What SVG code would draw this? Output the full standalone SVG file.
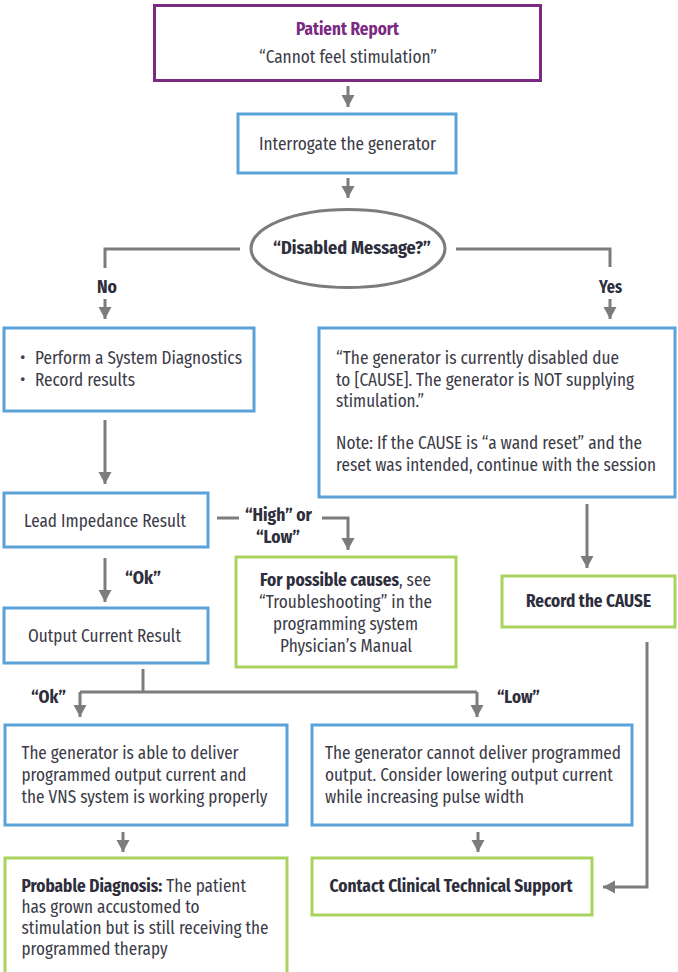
<svg xmlns="http://www.w3.org/2000/svg" width="678" height="972" viewBox="0 0 678 972">
<style>
text{font-family:"Fira Sans Condensed","Roboto Condensed","Liberation Sans Narrow",Roboto,"Noto Sans",sans-serif;font-size:18px;fill:#3c3c48}
.b{font-weight:700;fill:#2e2e3c}
.p{font-weight:700;fill:#7b2a82}
.box{fill:#fff;stroke-width:3}
.blue{stroke:#5aa2d8}
.green{stroke:#a9d35e}
.purple{stroke:#7b2a82}
.con path{fill:none;stroke:#7c7c7c;stroke-width:3}
.arr{marker-end:url(#ah)}
</style>
<defs>
<marker id="ah" markerUnits="userSpaceOnUse" markerWidth="14" markerHeight="14" viewBox="0 0 14 14" refX="12" refY="7" orient="auto">
<path d="M0,0.5 L12,7 L0,13.5 z" fill="#7c7c7c"/>
</marker>
</defs>
<rect width="678" height="972" fill="#fff"/>
<g class="con">
<path class="arr" d="M348,86 V107"/>
<path class="arr" d="M348,178 V198"/>
<path d="M240,249 H105 V268"/>
<path class="arr" d="M105,299 V319"/>
<path d="M456,249 H610 V267"/>
<path class="arr" d="M610,299 V319"/>
<path class="arr" d="M105,420 V484"/>
<path d="M217,518 H239"/>
<path class="arr" d="M322,518 H348 V550"/>
<path class="arr" d="M105,558 V602"/>
<path class="arr" d="M587,504 V568"/>
<path d="M143,669 V692"/>
<path d="M80,692 H477"/>
<path class="arr" d="M80,692 V717"/>
<path class="arr" d="M477,692 V717"/>
<path class="arr" d="M123,832 V852"/>
<path class="arr" d="M478,832 V852"/>
<path class="arr" d="M647,642 V887 H603"/>
</g>
<g id="patient-report">
<rect class="box purple" x="154.5" y="5.5" width="386" height="75"/>
<text class="p" x="296" y="35" textLength="103" lengthAdjust="spacingAndGlyphs">Patient Report</text>
<text x="259" y="63" textLength="178" lengthAdjust="spacingAndGlyphs">“Cannot feel stimulation”</text>
</g>
<g id="interrogate">
<rect class="box blue" x="238" y="114" width="218" height="59"/>
<text x="259" y="150" textLength="177" lengthAdjust="spacingAndGlyphs">Interrogate the generator</text>
</g>
<g id="disabled-message">
<ellipse cx="348" cy="248.5" rx="97" ry="39" fill="#fff" stroke="#7c7c7c" stroke-width="3"/>
<text class="b" x="273" y="254" textLength="158" lengthAdjust="spacingAndGlyphs">“Disabled Message?”</text>
</g>
<g id="label-no"><text class="b" x="97" y="293" textLength="20" lengthAdjust="spacingAndGlyphs">No</text></g>
<g id="label-yes"><text class="b" x="599" y="293" textLength="23" lengthAdjust="spacingAndGlyphs">Yes</text></g>
<g id="diagnostics">
<rect class="box blue" x="4" y="328" width="250" height="83"/>
<text x="20" y="364">•</text>
<text x="35" y="364" textLength="207" lengthAdjust="spacingAndGlyphs">Perform a System Diagnostics</text>
<text x="20" y="386">•</text>
<text x="35" y="386" textLength="100" lengthAdjust="spacingAndGlyphs">Record results</text>
</g>
<g id="disabled-info">
<rect class="box blue" x="319" y="328" width="356" height="169"/>
<text x="336" y="364" textLength="283" lengthAdjust="spacingAndGlyphs">“The generator is currently disabled due</text>
<text x="336" y="385.5" textLength="298" lengthAdjust="spacingAndGlyphs">to [CAUSE]. The generator is NOT supplying</text>
<text x="336" y="407" textLength="88" lengthAdjust="spacingAndGlyphs">stimulation.”</text>
<text x="336" y="449" textLength="306" lengthAdjust="spacingAndGlyphs">Note: If the CAUSE is “a wand reset” and the</text>
<text x="336" y="470.5" textLength="320" lengthAdjust="spacingAndGlyphs">reset was intended, continue with the session</text>
</g>
<g id="lead-impedance">
<rect class="box blue" x="4" y="493" width="204" height="54"/>
<text x="24" y="527" textLength="162" lengthAdjust="spacingAndGlyphs">Lead Impedance Result</text>
</g>
<g id="label-high-low">
<text class="b" x="245" y="521" textLength="67" lengthAdjust="spacingAndGlyphs">“High” or</text>
<text class="b" x="256" y="543" textLength="44" lengthAdjust="spacingAndGlyphs">“Low”</text>
</g>
<g id="possible-causes">
<rect class="box green" x="236" y="557" width="220" height="110"/>
<text x="260" y="586" textLength="171" lengthAdjust="spacingAndGlyphs"><tspan class="b">For possible causes</tspan>, see</text>
<text x="259" y="608" textLength="173" lengthAdjust="spacingAndGlyphs">“Troubleshooting” in the</text>
<text x="273" y="630" textLength="145" lengthAdjust="spacingAndGlyphs">programming system</text>
<text x="280" y="652" textLength="132" lengthAdjust="spacingAndGlyphs">Physician’s Manual</text>
</g>
<g id="record-cause">
<rect class="box green" x="502" y="576" width="173" height="51"/>
<text class="b" x="526" y="607" textLength="125" lengthAdjust="spacingAndGlyphs">Record the CAUSE</text>
</g>
<g id="label-ok1"><text class="b" x="125" y="584" textLength="36" lengthAdjust="spacingAndGlyphs">“Ok”</text></g>
<g id="output-current">
<rect class="box blue" x="4" y="608" width="204" height="55"/>
<text x="28" y="642" textLength="153" lengthAdjust="spacingAndGlyphs">Output Current Result</text>
</g>
<g id="label-ok2"><text class="b" x="31" y="703" textLength="35" lengthAdjust="spacingAndGlyphs">“Ok”</text></g>
<g id="label-low"><text class="b" x="497" y="703" textLength="43" lengthAdjust="spacingAndGlyphs">“Low”</text></g>
<g id="able-deliver">
<rect class="box blue" x="5" y="725" width="282" height="100"/>
<text x="21.5" y="759" textLength="217" lengthAdjust="spacingAndGlyphs">The generator is able to deliver</text>
<text x="21.5" y="781" textLength="225" lengthAdjust="spacingAndGlyphs">programmed output current and</text>
<text x="21.5" y="803" textLength="246" lengthAdjust="spacingAndGlyphs">the VNS system is working properly</text>
</g>
<g id="cannot-deliver">
<rect class="box blue" x="312" y="725" width="320" height="100"/>
<text x="325" y="759" textLength="296" lengthAdjust="spacingAndGlyphs">The generator cannot deliver programmed</text>
<text x="325" y="781" textLength="288" lengthAdjust="spacingAndGlyphs">output. Consider lowering output current</text>
<text x="325" y="803" textLength="199" lengthAdjust="spacingAndGlyphs">while increasing pulse width</text>
</g>
<g id="probable-diagnosis">
<rect class="box green" x="5" y="858" width="282" height="130"/>
<text x="21.5" y="892" textLength="224.5" lengthAdjust="spacingAndGlyphs"><tspan class="b">Probable Diagnosis:</tspan> The patient</text>
<text x="21.5" y="913" textLength="178" lengthAdjust="spacingAndGlyphs">has grown accustomed to</text>
<text x="21.5" y="934" textLength="247" lengthAdjust="spacingAndGlyphs">stimulation but is still receiving the</text>
<text x="21.5" y="955" textLength="146" lengthAdjust="spacingAndGlyphs">programmed therapy</text>
</g>
<g id="contact-support">
<rect class="box green" x="312" y="858" width="280" height="57"/>
<text class="b" x="329.5" y="892" textLength="243" lengthAdjust="spacingAndGlyphs">Contact Clinical Technical Support</text>
</g>
</svg>
